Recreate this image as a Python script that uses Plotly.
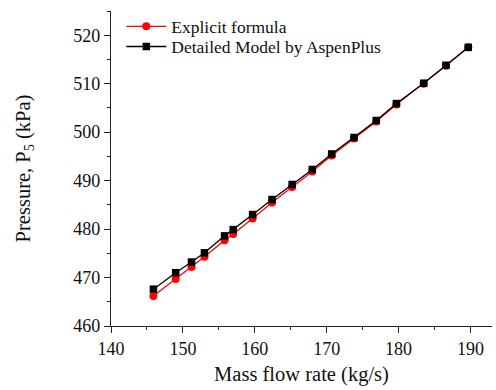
import plotly.graph_objects as go

flow = [145.9, 149.0, 151.2, 153.0, 155.8, 157.0, 159.7, 162.4, 165.2, 168.0,
        170.7, 173.8, 176.9, 179.7, 183.5, 186.6, 189.7]
p_explicit = [466.2, 469.7, 472.2, 474.3, 477.7, 479.0, 482.2, 485.5, 488.7, 491.9,
              495.2, 498.7, 502.2, 505.7, 510.0, 513.7, 517.5]
p_aspen = [467.6, 471.0, 473.2, 475.1, 478.6, 479.9, 483.0, 486.1, 489.2, 492.3,
           495.5, 498.9, 502.4, 505.9, 510.1, 513.8, 517.5]

xticks = [140, 150, 160, 170, 180, 190]
yticks = [460, 470, 480, 490, 500, 510, 520]

FONT = "Liberation Serif"

fig = go.Figure()
fig.add_trace(go.Scatter(x=flow, y=p_explicit, mode="lines+markers", name="Explicit formula",
                         line=dict(color="#ff0000", width=1.3),
                         marker=dict(symbol="circle", size=8, color="#ff0000"),
                         legend="legend"))
fig.add_trace(go.Scatter(x=flow, y=p_aspen, mode="lines+markers", name="Detailed Model by AspenPlus",
                         line=dict(color="#000000", width=1.3),
                         marker=dict(symbol="square", size=7.5, color="#000000"),
                         legend="legend2"))

legend_common = dict(xanchor="left", yanchor="top", bgcolor="rgba(0,0,0,0)",
                     font=dict(family=FONT, size=17.5, color="#111"), itemwidth=40)

fig.update_layout(
    width=496, height=390,
    margin=dict(l=111, r=4, t=11, b=64),
    paper_bgcolor="white", plot_bgcolor="white",
    font=dict(family=FONT, size=17, color="#111"),
    showlegend=True,
    legend=dict(x=0.027, y=1.008, **legend_common),
    legend2=dict(x=0.027, y=0.944, **legend_common),
    xaxis=dict(range=[140, 193], tickvals=xticks, ticktext=[str(v) for v in xticks],
               showgrid=False, zeroline=False, showline=True, linecolor="#222", linewidth=1.3,
               ticks="outside", ticklen=6, tickcolor="#222", tickwidth=1.2,
               minor=dict(ticks="outside", ticklen=3, dtick=5, tick0=140, tickcolor="#222", showgrid=False),
               title=dict(text="Mass flow rate (kg/s)", font=dict(family=FONT, size=20.5, color="#111"), standoff=8),
               tickfont=dict(family=FONT, size=18, color="#111")),
    yaxis=dict(range=[460, 525], tickvals=yticks, ticktext=[str(v) for v in yticks],
               showgrid=False, zeroline=False, showline=True, linecolor="#222", linewidth=1.3,
               ticks="outside", ticklen=6, tickcolor="#222", tickwidth=1.2,
               minor=dict(ticks="outside", ticklen=3, dtick=5, tick0=460, tickcolor="#222", showgrid=False),
               title=dict(text="Pressure, P<sub>5</sub> (kPa)", font=dict(family=FONT, size=20.5, color="#111"), standoff=37),
               tickfont=dict(family=FONT, size=18, color="#111")),
)

fig.write_html("out.html")
